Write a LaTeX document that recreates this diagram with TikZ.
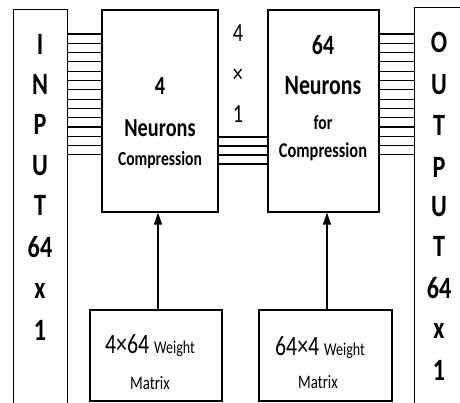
\documentclass[tikz,border=0pt]{standalone}
\usepackage{fontspec}
\setmainfont{Carlito}[FakeStretch=0.78]
\usetikzlibrary{arrows.meta}
\newcommand{\fsz}[1]{\fontsize{#1}{#1}\selectfont}
\begin{document}
\begin{tikzpicture}[x=1pt,y=-1pt,
  box/.style={draw,line width=1.2pt,inner sep=0,rectangle},
  frame/.style={inner sep=0,rectangle},
  wire/.style={line width=1.1pt},
  lbl/.style={anchor=base,inner sep=0},
  arr/.style={line width=1.1pt,-{Triangle[length=12pt,width=8pt]}}]
\useasboundingbox (0,0) rectangle (460,403);
% open side boxes
\node[frame,minimum width=53pt,minimum height=393pt] (in) at (40.5,206.5) {};
\draw[line width=1.2pt] (in.south west) -- (in.north west) -- (in.north east) -- (in.south east);
\node[frame,minimum width=47pt,minimum height=395pt] (out) at (438.5,205.5) {};
\draw[line width=1.2pt] (out.north east) -- (out.north west) -- (out.south west);
% main boxes
\node[box,minimum width=116pt,minimum height=202pt] (b1) at (160,111) {};
\node[box,minimum width=111pt,minimum height=202pt] (b2) at (323.5,111) {};
\node[box,minimum width=132pt,minimum height=91pt] (w1) at (156,355.5) {};
\node[box,minimum width=133pt,minimum height=91pt] (w2) at (325.5,355.5) {};
% wires
\foreach \i in {0,...,13}{
  \pgfmathsetmacro{\yy}{34+\i*9.3}
  \draw[wire] (in.east |- 0,\yy) -- (b1.west |- 0,\yy);
  \draw[wire] (b2.east |- 0,\yy) -- (out.west |- 0,\yy);
}
\foreach \yy in {137,146,155,164}{
  \draw[wire] (b1.east |- 0,\yy) -- (b2.west |- 0,\yy);
}
% arrows
\draw[arr] (158,0 |- w1.north) -- (158,0 |- b1.south);
\draw[arr] (327,0 |- w2.north) -- (327,0 |- b2.south);
% input letters
\foreach \t/\yy [count=\k] in {I/55,N/95,P/135,U/176,T/216,64/258,x/298,1/340}{
  \node[lbl,font=\bfseries\fsz{31}] (inl\k) at (40,\yy) {\t};
}
\foreach \t/\yy [count=\k] in {O/53,U/95,T/136,P/178,U/217,T/257,64/298,x/338,1/380}{
  \node[lbl,font=\bfseries\fsz{31}] (outl\k) at (439,\yy) {\t};
}
% box 1 text
\node[lbl,font=\bfseries\fsz{26}] (b1a) at (160,95) {4};
\node[lbl,font=\bfseries\fsz{26}] (b1b) at (160,137) {Neurons};
\node[lbl,font=\bfseries\fsz{20}] (b1c) at (160,166) {Compression};
% box 2 text
\node[lbl,font=\bfseries\fsz{28}] (b2a) at (323,55) {64};
\node[lbl,font=\bfseries\fsz{28}] (b2b) at (323,95) {Neurons};
\node[lbl,font=\bfseries\fsz{20}] (b2c) at (323,130) {for};
\node[lbl,font=\bfseries\fsz{21}] (b2d) at (323,158) {Compression};
% middle label
\node[lbl,font=\fsz{26}] (m1) at (238,42) {4};
\node[lbl,font=\fsz{26}] (m2) at (238,83) {×};
\node[lbl,font=\fsz{26}] (m3) at (238,123) {1};
% weight texts
\node[lbl] (w1a) at (150,353) {\fsz{28}4×64 \fsz{18}Weight};
\node[lbl,font=\fsz{19}] (w1b) at (150,389) {Matrix};
\node[lbl] (w2a) at (320,355) {\fsz{28}64×4 \fsz{18}Weight};
\node[lbl,font=\fsz{19}] (w2b) at (318,388) {Matrix};
\end{tikzpicture}
\end{document}
